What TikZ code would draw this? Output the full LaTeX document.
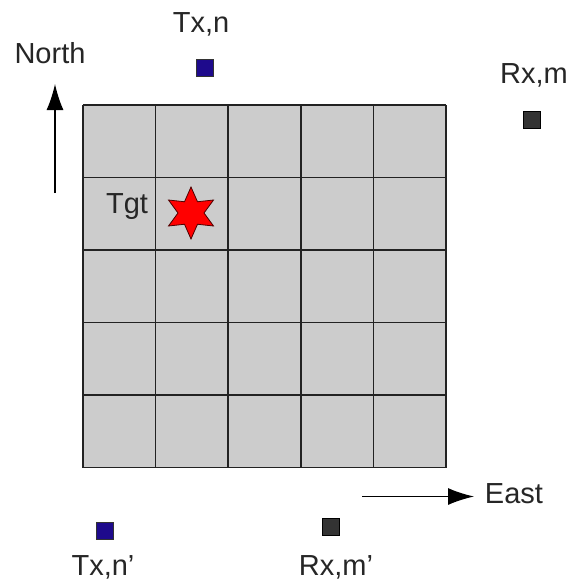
\documentclass[tikz,border=0pt]{standalone}
\usepackage{fontspec}
\setmainfont{Liberation Sans}
\usetikzlibrary{shapes.geometric,arrows.meta}
\definecolor{gridfill}{HTML}{CCCCCC}
\definecolor{gridline}{HTML}{222222}
\definecolor{txblue}{HTML}{1E0A8C}
\definecolor{rxgray}{HTML}{333333}
\tikzset{
  lbl/.style={anchor=base, inner sep=0pt, text=black!85, font=\fontsize{29}{34}\selectfont},
  txsq/.style={draw=black!80, fill=txblue, minimum size=17pt, inner sep=0pt, line width=0.8pt},
  rxsq/.style={draw=black, fill=rxgray, minimum size=17pt, inner sep=0pt, line width=0.8pt},
  dirarrow/.style={line width=1.3pt, -{Latex[length=26pt,width=17pt]}},
  tgtstar/.style={star, star points=6, star point ratio=2, minimum size=52pt, inner sep=0pt, draw=black!70!red, fill=red, line width=0.8pt}
}
\begin{document}
\begin{tikzpicture}[x=1pt,y=-1pt]
\useasboundingbox[fill=white] (0,0) rectangle (570,581);
% grid
\fill[gridfill] (83,105) rectangle (446,467.5);
\foreach \i in {0,...,5}{
  \draw[gridline, line width=1.6pt] ({83+\i*72.6},105) -- ({83+\i*72.6},467.5);
  \draw[gridline, line width=1.6pt] (83,{105+\i*72.5}) -- (446,{105+\i*72.5});
}
% target
\node[tgtstar] (tgt) at (191,213) {};
\node[lbl] (tgtl) at (127,213) {Tgt};
% transmitters / receivers
\node[txsq] (txn) at (205,67.5) {};
\node[lbl] (txnl) at (201,32) {Tx,n};
\node[rxsq] (rxm) at (531.5,120) {};
\node[lbl] (rxml) at (534,83) {Rx,m};
\node[txsq] (txnp) at (104.5,530.5) {};
\node[lbl] (txnpl) at (103,575) {Tx,n'};
\node[rxsq] (rxmp) at (330.5,526.5) {};
\node[lbl] (rxmpl) at (336,575) {Rx,m'};
% direction arrows
\coordinate (ns) at (55,193);
\coordinate (ne) at (55,84);
\draw[dirarrow] (ns) -- (ne);
\node[lbl] (north) at (50,63) {North};
\coordinate (es) at (362,496.5);
\coordinate (ee) at (474,496.5);
\draw[dirarrow] (es) -- (ee);
\node[lbl] (east) at (514,503) {East};
\end{tikzpicture}
\end{document}
